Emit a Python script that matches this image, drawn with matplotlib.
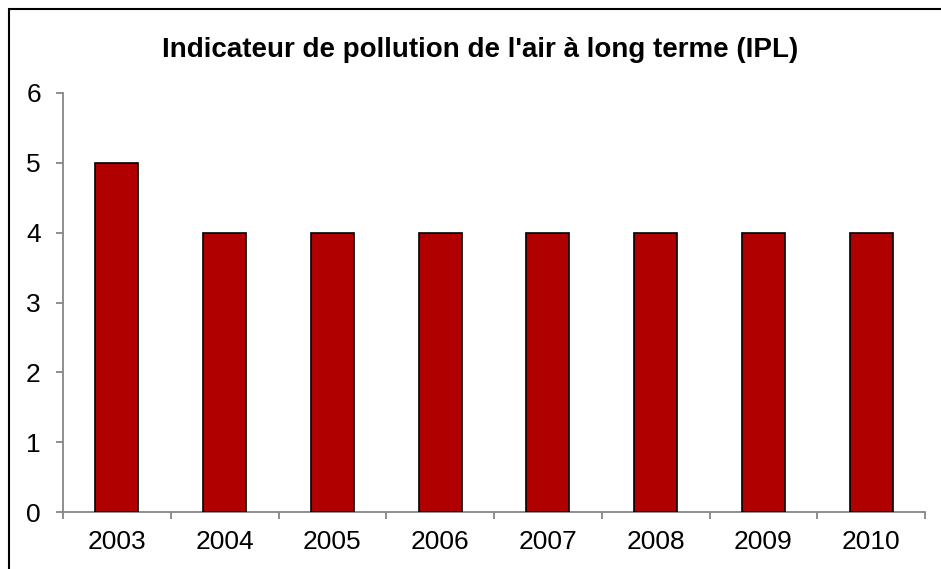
import matplotlib
matplotlib.use('Agg')
from matplotlib import pyplot as plt
from matplotlib.patches import Rectangle
import numpy as np

years = ['2003', '2004', '2005', '2006', '2007', '2008', '2009', '2010']
ipl = [5, 4, 4, 4, 4, 4, 4, 4]

plt.rcParams['font.family'] = ['Liberation Sans', 'DejaVu Sans']

fig = plt.figure(figsize=(9.41, 5.69), dpi=100)
ax = fig.add_axes([63 / 941, 1 - 512 / 569, 862 / 941, 419 / 569])

x = np.arange(len(years))
ax.bar(x, ipl, width=0.4, color='#B00000', edgecolor='black', linewidth=1.2, zorder=3)

ax.set_xlim(-0.5, len(years) - 0.5)
ax.set_ylim(0, 6)
ax.set_yticks(range(7))
ax.set_xticks(x)
ax.set_xticklabels(years)
ax.set_xticks(np.arange(len(years) + 1) - 0.5, minor=True)

for s in ['top', 'right']:
    ax.spines[s].set_visible(False)
for s in ['left', 'bottom']:
    ax.spines[s].set_color('#868686')
    ax.spines[s].set_linewidth(1.3)

ax.tick_params(axis='y', length=5, width=1.3, color='#868686', pad=11, labelsize=19)
ax.tick_params(axis='x', which='major', length=0, pad=13, labelsize=19)
ax.tick_params(axis='x', which='minor', length=5, width=1.3, color='#868686')

fig.text(480 / 941, 1 - 50 / 569, "Indicateur de pollution de l'air à long terme (IPL)",
         ha='center', va='center', fontsize=20, fontweight='bold')

# cadre du graphique
fig.patches.append(Rectangle((9 / 941, -0.1), 1.2, 1 - 9 / 569 + 0.1,
                             transform=fig.transFigure, fill=False,
                             edgecolor='black', linewidth=1.5))

fig.savefig('out.png', dpi=100)
